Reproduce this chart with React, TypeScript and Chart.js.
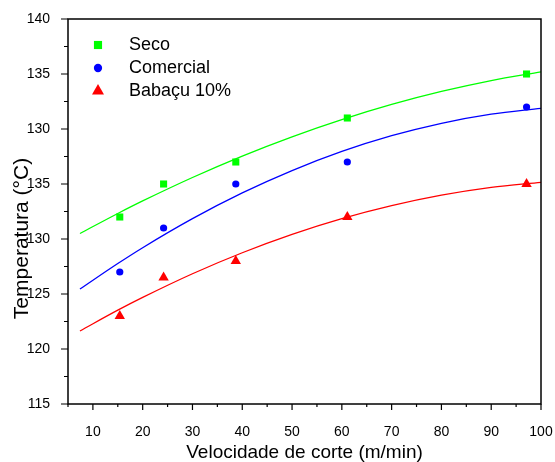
import React, { useEffect, useRef } from 'react';
import { Chart, registerables } from 'chart.js';
import { drawPoint } from 'chart.js/helpers';

Chart.register(...registerables);

// ---- data (values read on the plot's uniform vertical scale) ----
const cuttingSpeed = [15.4, 24.2, 38.7, 61.1, 97.1];
const secoTemp = [132, 135, 137, 141, 145];
const comercialTemp = [127, 131, 135, 137, 142];
const babacuTemp = [123, 126.5, 128, 132, 135];

// fitted curves, points
const fitSpeed = [7.4, 15, 20, 30, 40, 50, 60, 70, 80, 90, 100];
const secoFit = [130.5, 132.32, 133.46, 135.59, 137.54, 139.29, 140.85, 142.23, 143.41, 144.4, 145.2];
const comercialFit = [125.45, 127.77, 129.21, 131.85, 134.19, 136.22, 137.96, 139.39, 140.52, 141.35, 141.88];
const babacuFit = [121.64, 123.53, 124.69, 126.84, 128.75, 130.42, 131.85, 133.03, 133.98, 134.69, 135.15];

const xTickValues = [10, 20, 30, 40, 50, 60, 70, 80, 90, 100];
const yTickValues = [115, 120, 125, 130, 135, 140, 145, 150];
const yTickLabels = ['115', '120', '125', '130', '135', '130', '135', '140'];

const seriesNames = ['Seco', 'Comercial', 'Babaçu 10%'];
const seriesColors = ['#00ff00', '#0000ff', '#ff0000'];
const seriesStyles = ['rect', 'circle', 'triangle'];
const seriesRadius = [5, 3.6, 6];

const xTitle = 'Velocidade de corte (m/min)';
const yTitle = 'Temperatura (°C)';

const FONT = '"Liberation Sans", Arial, sans-serif';

const pts = (xs: number[], ys: number[]) => xs.map((x, i) => ({ x, y: ys[i] }));

const framePlugin = {
  id: 'frameTicks',
  afterDraw(chart: any) {
    const { ctx, chartArea } = chart;
    const { left, right, top, bottom } = chartArea;
    const xs = chart.scales.x;
    const ys = chart.scales.y;
    ctx.save();
    ctx.strokeStyle = '#000';
    ctx.lineWidth = 1.5;
    ctx.strokeRect(left, top, right - left, bottom - top);
    ctx.lineWidth = 1.2;
    ctx.beginPath();
    xTickValues.forEach((v) => {
      const px = xs.getPixelForValue(v);
      ctx.moveTo(px, bottom);
      ctx.lineTo(px, bottom + 6);
      const mv = v - 5;
      if (mv >= xs.min) {
        const mp = xs.getPixelForValue(mv);
        ctx.moveTo(mp, bottom);
        ctx.lineTo(mp, bottom + 3);
      }
    });
    yTickValues.forEach((v) => {
      const py = ys.getPixelForValue(v);
      ctx.moveTo(left, py);
      ctx.lineTo(left - 7, py);
      const mv = v - 2.5;
      if (mv >= ys.min) {
        const mp = ys.getPixelForValue(mv);
        ctx.moveTo(left, mp);
        ctx.lineTo(left - 4, mp);
      }
    });
    ctx.stroke();

    // y axis title
    ctx.fillStyle = '#000';
    ctx.font = `21px ${FONT}`;
    ctx.textAlign = 'center';
    ctx.textBaseline = 'middle';
    ctx.translate(22, (top + bottom) / 2 + 27);
    ctx.rotate(-Math.PI / 2);
    ctx.fillText(yTitle, 0, 0);
    ctx.restore();

    // legend inside plot
    ctx.save();
    ctx.font = `18px ${FONT}`;
    ctx.textAlign = 'left';
    ctx.textBaseline = 'middle';
    seriesNames.forEach((name, i) => {
      const y = top + 26 + i * 23;
      ctx.fillStyle = seriesColors[i];
      drawPoint(ctx, {
        pointStyle: seriesStyles[i],
        radius: seriesRadius[i] * 1.15,
        rotation: 0,
        borderWidth: 0,
      } as any, left + 30, y);
      ctx.fillStyle = '#000';
      ctx.fillText(name, left + 61, y);
    });
    ctx.restore();
  },
};

export default function App() {
  const ref = useRef<HTMLCanvasElement | null>(null);
  useEffect(() => {
    if (!ref.current) return;
    const pointSets = [secoTemp, comercialTemp, babacuTemp];
    const fitSets = [secoFit, comercialFit, babacuFit];
    const datasets: any[] = [];
    pointSets.forEach((ys, i) => {
      datasets.push({
        label: seriesNames[i],
        data: pts(cuttingSpeed, ys),
        showLine: false,
        pointStyle: seriesStyles[i],
        pointRadius: seriesRadius[i],
        pointBackgroundColor: seriesColors[i],
        pointBorderWidth: 0,
        pointBorderColor: seriesColors[i],
      });
    });
    fitSets.forEach((ys, i) => {
      datasets.push({
        label: seriesNames[i] + ' fit',
        data: pts(fitSpeed, ys),
        showLine: true,
        pointRadius: 0,
        borderColor: seriesColors[i],
        borderWidth: 1.3,
        cubicInterpolationMode: 'monotone',
        fill: false,
      });
    });
    const chart = new Chart(ref.current, {
      type: 'scatter',
      data: { datasets },
      options: {
        responsive: false,
        maintainAspectRatio: false,
        devicePixelRatio: 1,
        animation: false,
        layout: { padding: { top: 19, right: 14, left: 0, bottom: 0 } },
        plugins: { legend: { display: false }, tooltip: { enabled: false } },
        scales: {
          x: {
            type: 'linear',
            min: 5,
            max: 100,
            grid: { display: false },
            border: { display: false },
            afterBuildTicks: (s: any) => {
              s.ticks = xTickValues.map((v) => ({ value: v }));
            },
            afterFit: (s: any) => {
              s.height = 58;
              s.paddingLeft = 0;
              s.paddingRight = 0;
            },
            ticks: {
              color: '#000',
              padding: 12,
              maxRotation: 0,
              autoSkip: false,
              font: { family: FONT, size: 14 },
            },
            title: {
              display: true,
              text: xTitle,
              color: '#000',
              padding: 0,
              font: { family: FONT, size: 19, lineHeight: 1 },
            },
          },
          y: {
            type: 'linear',
            min: 115,
            max: 150,
            grid: { display: false },
            border: { display: false },
            afterBuildTicks: (s: any) => {
              s.ticks = yTickValues.map((v) => ({ value: v }));
            },
            afterFit: (s: any) => {
              s.width = 68;
              s.paddingTop = 0;
              s.paddingBottom = 0;
            },
            ticks: {
              color: '#000',
              padding: 10,
              autoSkip: false,
              font: { family: FONT, size: 14 },
              callback: (_v: any, i: number) => yTickLabels[i],
            },
          },
        },
      },
      plugins: [framePlugin],
    } as any);
    return () => chart.destroy();
  }, []);
  return (
    <div style={{ position: 'absolute', left: 0, top: 0, width: 555, height: 462, background: '#fff' }}>
      <canvas ref={ref} width={555} height={462} style={{ display: 'block' }} />
    </div>
  );
}
